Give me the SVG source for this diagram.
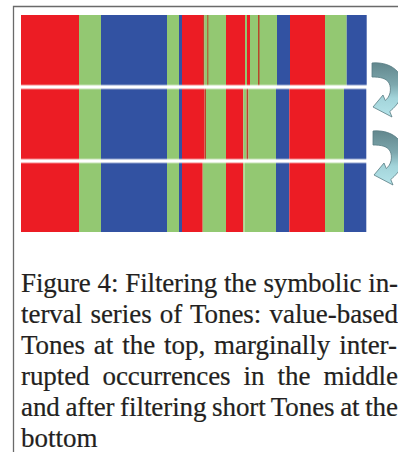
<svg xmlns="http://www.w3.org/2000/svg" width="398" height="452" viewBox="0 0 398 452">
<style>
.r{fill:#ec1c24}
.g{fill:#93c872}
.b{fill:#3252a2}
.d{fill:#b8452a}
.lg{fill:#b4dc9a}
.sep{fill:#ffffff}
.frame{stroke:#6a6a6a;stroke-width:1.3;fill:none}
.cap{font-family:"Liberation Serif","Times New Roman",serif;font-size:27px;fill:#231f20;stroke:#231f20;stroke-width:0.2}
.arrow{fill:url(#ag);stroke:#587c83;stroke-width:0.8}
</style>
<defs>
<linearGradient id="ag" x1="0" y1="0" x2="0" y2="1">
<stop offset="0" stop-color="#62878d"/>
<stop offset="0.4" stop-color="#7da8ae"/>
<stop offset="0.65" stop-color="#a3d4da"/>
<stop offset="1" stop-color="#b5e4ea"/>
</linearGradient>
<path id="arr" d="M0,0 C22,-2 36,14 30,32 C27,40 22,45 17.75,48.5 L20,54 L1,44 L11,32 L13.25,37.5 C18,34 20,26 17,20 C14,15 8,14 0,14 Z"/>
</defs>
<rect x="0" y="0" width="398" height="452" fill="#ffffff"/>
<path class="frame" d="M13.5,452 V6.5 H398"/>
<g id="bars">
<rect class="r" x="21" y="15" width="58" height="217"/>
<rect class="g" x="79" y="15" width="22" height="217"/>
<rect class="b" x="101" y="15" width="66" height="217"/>
<rect class="g" x="167" y="15" width="12" height="217"/>
<rect class="b" x="179" y="15" width="3" height="217"/>
<g id="top-band">
<rect class="r" x="182" y="15" width="21" height="71"/>
<rect class="d" x="203" y="15" width="1.5" height="71"/>
<rect class="g" x="204.5" y="15" width="21.5" height="71"/>
<rect class="d" x="207.3" y="15" width="1" height="71"/>
<rect class="r" x="226" y="15" width="19" height="71"/>
<rect class="g" x="245" y="15" width="2" height="71"/>
<rect class="r" x="247" y="15" width="3" height="71"/>
<rect class="g" x="250" y="15" width="27" height="71"/>
<rect class="d" x="258" y="15" width="1.5" height="71"/>
<rect class="b" x="277" y="15" width="13" height="71"/>
<rect class="r" x="290" y="15" width="35" height="71"/>
<rect class="g" x="325" y="15" width="21.7" height="71"/>
<rect class="b" x="346.7" y="15" width="20" height="71"/>
</g>
<g id="middle-band">
<rect class="r" x="182" y="88" width="22.5" height="72"/>
<rect class="d" x="204.5" y="88" width="1.5" height="72"/>
<rect class="g" x="206" y="88" width="20" height="72"/>
<rect class="r" x="226" y="88" width="17.3" height="72"/>
<rect class="g" x="243.3" y="88" width="3.2" height="72"/>
<rect class="d" x="246.5" y="88" width="2" height="72"/>
<rect class="g" x="248.5" y="88" width="27.5" height="72"/>
<rect class="b" x="276" y="88" width="13.3" height="72"/>
<rect class="r" x="289.3" y="88" width="35.7" height="72"/>
<rect class="g" x="325" y="88" width="19" height="72"/>
<rect class="b" x="344" y="88" width="22.3" height="72"/>
</g>
<g id="bottom-band">
<rect class="r" x="182" y="162" width="20.7" height="70"/>
<rect class="g" x="202.7" y="162" width="23.3" height="70"/>
<rect class="r" x="226" y="162" width="17.3" height="70"/>
<rect class="g" x="243.3" y="162" width="32.7" height="70"/>
<rect class="lg" x="243.5" y="162" width="1.5" height="70"/>
<rect class="b" x="276" y="162" width="13.3" height="70"/>
<rect class="r" x="289.3" y="162" width="35.7" height="70"/>
<rect class="g" x="325" y="162" width="19" height="70"/>
<rect class="b" x="344" y="162" width="22.3" height="70"/>
</g>
<rect class="sep" x="21" y="84.5" width="346" height="5" opacity="0.45"/>
<rect class="sep" x="21" y="85.5" width="346" height="3"/>
<rect class="sep" x="21" y="158.5" width="346" height="5" opacity="0.45"/>
<rect class="sep" x="21" y="159.5" width="346" height="3"/>
</g>
<g id="arrows">
<use href="#arr" class="arrow" x="372" y="63"/>
<use href="#arr" class="arrow" x="373" y="131"/>
</g>
<g id="caption" class="cap">
<text x="21" y="291.5" word-spacing="0.3" textLength="377" lengthAdjust="spacing">Figure 4: Filtering the symbolic in-</text>
<text x="21" y="322.5" word-spacing="1.5" textLength="377" lengthAdjust="spacing">terval series of Tones: value-based</text>
<text x="21" y="353.5" word-spacing="2.2" textLength="376" lengthAdjust="spacing">Tones at the top, marginally inter-</text>
<text x="21" y="384.5" word-spacing="6.5" textLength="377" lengthAdjust="spacing">rupted occurrences in the middle</text>
<text x="21" y="415.5" word-spacing="-1" textLength="377" lengthAdjust="spacing">and after filtering short Tones at the</text>
<text x="21" y="446.5">bottom</text>
</g>
</svg>
